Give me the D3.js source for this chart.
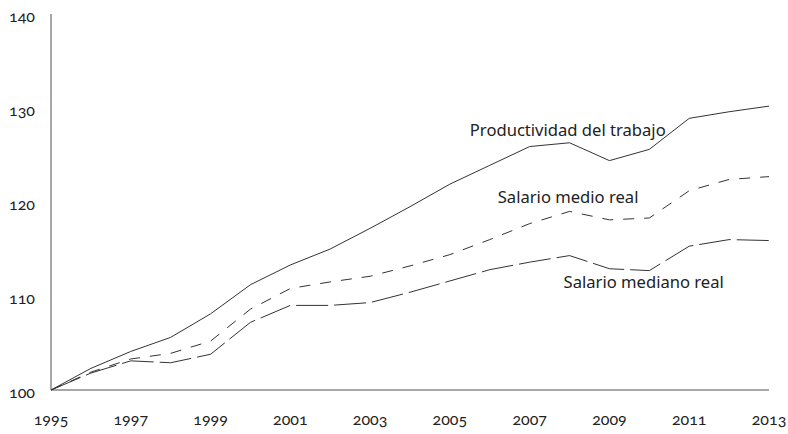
<!DOCTYPE html>
<html lang="es">
<head>
<meta charset="UTF-8">
<title>Productividad y salarios</title>
<style>
  body { margin: 0; background: #fff; }
  svg text { font-family: "Noto Sans", "Open Sans", sans-serif; fill: #222; }
  .tick-label { font-family: "Lato", "Noto Sans", sans-serif; font-size: 16px; font-variant-numeric: oldstyle-nums; font-feature-settings: "onum" 1; }
  .series-label { font-size: 16.6px; }
</style>
</head>
<body>
<svg></svg>
<script src="https://d3js.org/d3.v7.min.js"></script>
<script>

var years = [1995, 1996, 1997, 1998, 1999, 2000, 2001, 2002, 2003, 2004,
             2005, 2006, 2007, 2008, 2009, 2010, 2011, 2012, 2013];

var productividad = [100, 102.3, 104.1, 105.6, 108.1, 111.2, 113.3, 115.0, 117.2, 119.5,
                     121.9, 123.9, 125.9, 126.3, 124.4, 125.6, 128.9, 129.6, 130.2];
var salarioMedio  = [100, 101.9, 103.3, 103.9, 105.2, 108.6, 110.8, 111.5, 112.1, 113.2,
                     114.4, 116.0, 117.7, 119.0, 118.1, 118.3, 121.2, 122.4, 122.7];
var salarioMediano = [100, 101.8, 103.1, 102.9, 103.8, 107.2, 109.0, 109.0, 109.3, 110.4,
                      111.6, 112.8, 113.6, 114.3, 112.9, 112.7, 115.3, 116.0, 115.9];

var yTicks = [100, 110, 120, 130, 140];
var xTicks = [1995, 1997, 1999, 2001, 2003, 2005, 2007, 2009, 2011, 2013];

var series = [
  { name: "Productividad del trabajo", values: productividad, dash: null, label: [2005.5, 127.5] },
  { name: "Salario medio real", values: salarioMedio, dash: "11,10", label: [2006.2, 120.4] },
  { name: "Salario mediano real", values: salarioMediano, dash: "32,6", label: [2007.85, 111.35] }
];

var svgWidth = 788, svgHeight = 434;
var margin = { top: 14, right: 19, bottom: 44, left: 51 };

var svg = d3.select("svg")
  .attr("width", svgWidth)
  .attr("height", svgHeight);

var x = d3.scaleLinear().domain([1995, 2013]).range([margin.left, svgWidth - margin.right]);
var y = d3.scaleLinear().domain([100, 140]).range([svgHeight - margin.bottom, margin.top]);

// axes
svg.append("line")
  .attr("x1", x(1995)).attr("x2", x(1995))
  .attr("y1", y(140)).attr("y2", y(100))
  .attr("stroke", "#8a8a8a").attr("stroke-width", 1.5);
svg.append("line")
  .attr("x1", x(1995)).attr("x2", x(2013))
  .attr("y1", y(100)).attr("y2", y(100))
  .attr("stroke", "#8a8a8a").attr("stroke-width", 1.5);

svg.selectAll(".ytick")
  .data(yTicks)
  .enter().append("text")
  .attr("class", "tick-label")
  .attr("x", 9)
  .attr("y", function(d) { return y(d) + 4; })
  .attr("dominant-baseline", "middle")
  .text(function(d) { return d; });

svg.selectAll(".xtick")
  .data(xTicks)
  .enter().append("text")
  .attr("class", "tick-label")
  .attr("x", function(d) { return x(d); })
  .attr("y", y(100) + 31)
  .attr("text-anchor", "middle")
  .attr("dominant-baseline", "middle")
  .text(function(d) { return d; });

var line = d3.line()
  .x(function(d, i) { return x(years[i]); })
  .y(function(d) { return y(d); });

series.forEach(function(s) {
  svg.append("path")
    .datum(s.values)
    .attr("fill", "none")
    .attr("stroke", "#333")
    .attr("stroke-width", 1)
    .attr("stroke-dasharray", s.dash)
    .attr("d", line);

  svg.append("text")
    .attr("class", "series-label")
    .attr("x", x(s.label[0]))
    .attr("y", y(s.label[1]))
    .attr("dominant-baseline", "middle")
    .text(s.name);
});

</script>
</body>
</html>
